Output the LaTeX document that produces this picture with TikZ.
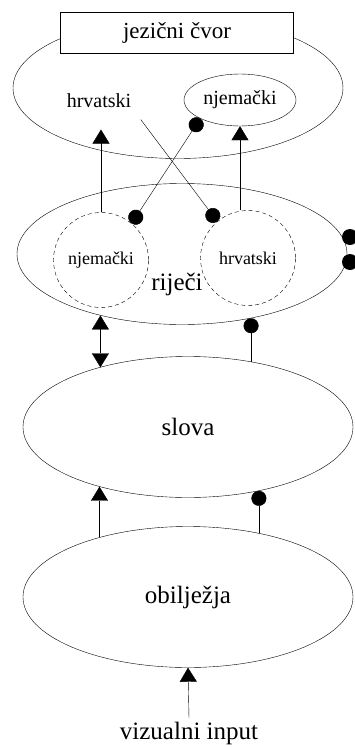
\documentclass[tikz,border=0pt]{standalone}
\usepackage{fontspec}
\setmainfont{Liberation Serif}
\usetikzlibrary{shapes.geometric,arrows.meta}

\begin{document}
\begin{tikzpicture}[x=1pt,y=-1pt]
		\tikzset{level/.style = {shape=ellipse, draw, minimum width=330pt, minimum height=141pt, inner sep=0pt},
			lang/.style = {shape=ellipse, draw, minimum width=112pt, minimum height=52pt, inner sep=0pt},
			wordset/.style = {shape=circle, draw, dashed, dash pattern=on 4pt off 3pt, minimum size=95pt, inner sep=0pt},
			vertex/.style = {shape=circle, fill=black, minimum size=16pt, inner sep=0pt},
			excite/.style = {-{Triangle[width=17pt,length=14pt]}},
			inhibit/.style = {-{Circle[length=15pt]}},
			every node/.style = {font=\fontsize{20}{24}\selectfont},
			big/.style = {font=\fontsize{25}{29}\selectfont}}

		\useasboundingbox (0,0) rectangle (354,747);

		\node[level] (jezik) at (178,88) {};
		\node[draw, fill=white, minimum width=233pt, minimum height=41pt, font=\fontsize{23}{27}\selectfont] (cvor) at (177,33) {jezični čvor};
		\node (hrv_L) at (99,101) {hrvatski};
		\node[lang] (njem_L) at (240,100) {njemački};

		\node[level] (rijeci) at (182,254) {};
		\node[wordset, font=\fontsize{18}{22}\selectfont] (njem_R) at (101,260) {njemački};
		\node[wordset, font=\fontsize{18}{22}\selectfont] (hrv_R) at (248,258) {hrvatski};
		\node[big] (rijeci_txt) at (177,284) {riječi};
		\node[vertex] (D_1) at (350,237) {};
		\node[vertex] (D_2) at (350,262) {};

		\node[level, big] (slova) at (188,427) {slova};
		\node[level, big] (obiljezja) at (188,597) {obilježja};
		\node[big] (input) at (189,733) {vizualni input};


		\draw[excite, shorten >=18pt] (njem_R.north) -- (njem_R.north |- hrv_L.south);
		\draw[excite] (hrv_R.north -| njem_L.south) -- (njem_L.south);
		\draw[inhibit, shorten <=10pt] (hrv_L.south east) -- (hrv_R.130);
		\draw[{Circle[length=15pt]}-{Circle[length=15pt]}] (njem_R.50) -- (njem_L.205);

		\draw[{Triangle[width=17pt,length=14pt]}-{Triangle[width=17pt,length=14pt]}] (rijeci.217) -- (rijeci.217 |- slova.146);
		\draw[inhibit] (slova.46) -- (slova.46 |- rijeci.317);

		\draw[excite] (obiljezja.146) -- (obiljezja.146 |- slova.214);
		\draw[inhibit] (obiljezja.42) -- (obiljezja.42 |- slova.318);

		\draw[excite] (input.north) -- (obiljezja.south);

	\end{tikzpicture}
\end{document}
